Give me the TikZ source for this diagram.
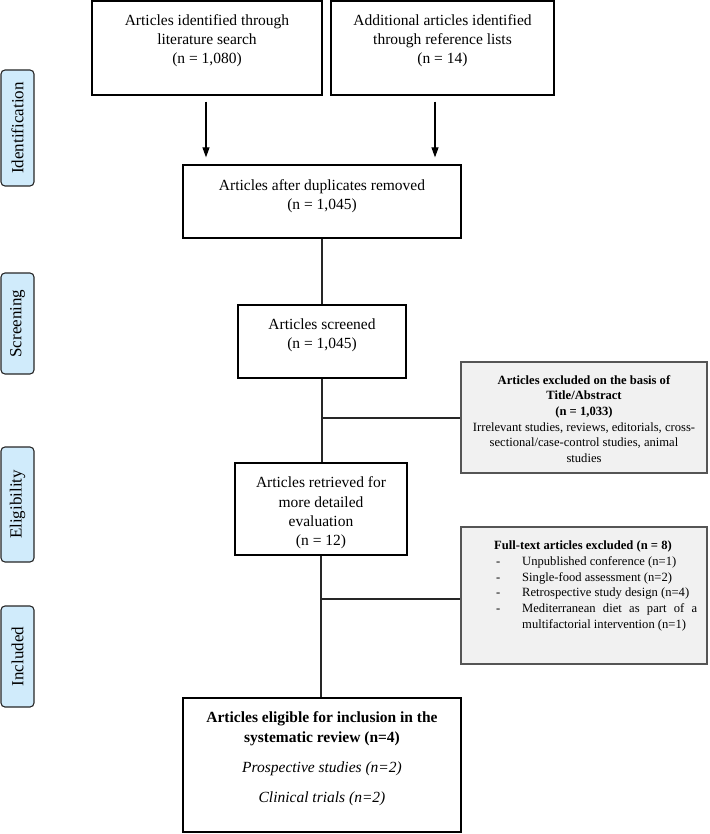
\documentclass[tikz,border=0pt]{standalone}
\usepackage{fontspec}
\setmainfont{Liberation Serif}
\usetikzlibrary{arrows.meta,calc}
\definecolor{labelblue}{HTML}{D0EBFB}
\definecolor{exgray}{HTML}{F1F1F1}
\definecolor{exborder}{HTML}{555555}
\tikzset{
  boxshape/.style={draw=black,line width=1.3pt,fill=white,inner sep=0pt},
  exshape/.style={draw=exborder,line width=1.5pt,fill=exgray,inner sep=0pt},
  stagelabel/.style={draw=black!85,line width=1.1pt,fill=labelblue,rounded corners=4pt,
    rotate=90,inner sep=0pt,minimum height=33pt,font=\fontsize{17}{20}\selectfont},
  maintext/.style={align=center,inner sep=0pt,font=\fontsize{15.5}{19.3}\selectfont},
  smalltext/.style={align=center,inner sep=0pt,font=\fontsize{12.6}{15.7}\selectfont},
  conn/.style={line width=1.1pt,draw=black!85},
  arr/.style={line width=1.1pt,-{Triangle[width=7pt,length=10pt]}},
}
\begin{document}
\begin{tikzpicture}[x=1pt,y=-1pt]
\useasboundingbox (0,0) rectangle (709,834);
% boxes
\node[boxshape,minimum width=230pt,minimum height=94pt] (b1) at (207,48) {};
\node[boxshape,minimum width=223pt,minimum height=94pt] (b2) at (442.5,48) {};
\node[boxshape,minimum width=278pt,minimum height=73pt] (b3) at (322,201.5) {};
\node[boxshape,minimum width=168pt,minimum height=73pt] (b4) at (322,341.5) {};
\node[boxshape,minimum width=172pt,minimum height=92pt] (b5) at (321,509) {};
\node[boxshape,minimum width=278pt,minimum height=134pt] (b6) at (322,765) {};
\node[exshape,minimum width=246pt,minimum height=111pt] (ex1) at (584,417.5) {};
\node[exshape,minimum width=246pt,minimum height=137pt] (ex2) at (584,595.5) {};
% texts
\node[maintext] (t1) at (207,40.5) {Articles identified through\\literature search\\(n = 1,080)};
\node[maintext] (t2) at (442.5,40.5) {Additional articles identified\\through reference lists\\(n = 14)};
\node[maintext] (t3) at (322,196) {Articles after duplicates removed\\(n = 1,045)};
\node[maintext] (t4) at (322,335.5) {Articles screened\\(n = 1,045)};
\node[maintext] (t5) at (321,513) {Articles retrieved for\\more detailed\\evaluation\\(n = 12)};
\node[maintext] (t6) at (322,759) {\textbf{Articles eligible for inclusion in the}\\\textbf{systematic review (n=4)}\\[11pt]\textit{Prospective studies (n=2)}\\[11pt]\textit{Clinical trials (n=2)}};
\node[smalltext] (te1) at (584,419) {\textbf{Articles excluded on the basis of}\\\textbf{Title/Abstract}\\\textbf{(n = 1,033)}\\Irrelevant studies, reviews, editorials, cross-\\sectional/case-control studies, animal\\studies};
\node[smalltext,align=left,anchor=west] (te2) at (494,586) {\textbf{Full-text articles excluded (n = 8)}\\
\hspace*{2pt}\makebox[26pt][l]{-}Unpublished conference (n=1)\\
\hspace*{2pt}\makebox[26pt][l]{-}Single-food assessment (n=2)\\
\hspace*{2pt}\makebox[26pt][l]{-}Retrospective study design (n=4)\\
\hspace*{2pt}\makebox[26pt][l]{-}\makebox[175pt][s]{Mediterranean diet as part of a}\\
\hspace*{28pt}multifactorial intervention (n=1)};
% stage labels
\node[stagelabel,minimum width=116pt] (s1) at (17.5,128) {Identification};
\node[stagelabel,minimum width=101pt] (s2) at (17.5,323.5) {Screening};
\node[stagelabel,minimum width=115pt] (s3) at (17.5,504.5) {Eligibility};
\node[stagelabel,minimum width=101pt] (s4) at (17.5,656.5) {Included};
% connectors
\draw[arr] ([xshift=-1pt,yshift=-6pt]b1.south) -- ([xshift=-1pt,yshift=7pt]b1.south |- b3.north);
\draw[arr] ([xshift=-7.5pt,yshift=-6pt]b2.south) -- ([xshift=-7.5pt,yshift=7pt]b2.south |- b3.north);
\draw[conn] (b3.south) -- (b4.north);
\draw[conn] (b4.south) -- (b4.south |- b5.north);
\coordinate (j1) at (322,418);
\draw[conn] (j1) -- (j1 -| ex1.west);
\draw[conn] (b5.south) -- (b5.south |- b6.north);
\coordinate (j2) at (321,599);
\draw[conn] (j2) -- (j2 -| ex2.west);
\end{tikzpicture}
\end{document}
